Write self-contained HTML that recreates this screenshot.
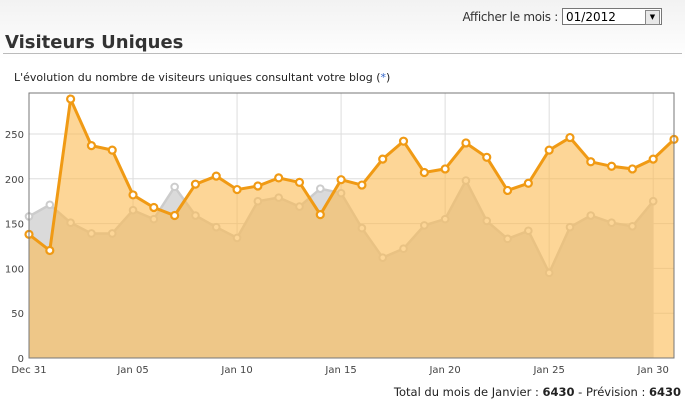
<!DOCTYPE html>
<html><head><meta charset="utf-8"><style>
body{margin:0;width:685px;height:408px;background:#fff;font-family:"DejaVu Sans","Liberation Sans",sans-serif;overflow:hidden;position:relative}
.top{position:absolute;left:0;top:0;width:685px;height:60px;background:linear-gradient(#f2f2f2,#fff)}
.aff{position:absolute;right:127px;top:10px;font-size:12px;color:#333;white-space:nowrap;letter-spacing:-0.3px}
.sel{position:absolute;left:562px;top:8px;width:100px;height:17px;border:1px solid #777;background:#fff;font-size:12px;line-height:17px;padding-left:3px;box-sizing:border-box;color:#000}
.sel b{position:absolute;right:1px;top:1px;width:13px;height:13px;border:1px solid #888;background:#e8e8e8;font-size:7px;line-height:13px;text-align:center;font-weight:normal}
h1{position:absolute;left:5px;top:32px;margin:0;font-size:18px;font-weight:bold;color:#333}
.rule{position:absolute;left:3px;top:53px;width:679px;height:1px;background:#bbb}
.sub{position:absolute;left:14px;top:71px;font-size:11px;color:#222}
.sub span{color:#36c}
.tot{position:absolute;right:4px;top:385px;font-size:11.5px;color:#222;white-space:nowrap}
svg{position:absolute;left:0;top:0}
</style></head><body>
<div class="top"></div>
<div class="aff">Afficher le mois :</div>
<div class="sel">01/2012<b>▼</b></div>
<h1>Visiteurs Uniques</h1>
<div class="rule"></div>
<div class="sub">L'évolution du nombre de visiteurs uniques consultant votre blog (<span>*</span>)</div>
<svg id="c" width="685" height="408"></svg>
<div class="tot">Total du mois de Janvier : <b>6430</b> - Prévision : <b>6430</b></div>
<script>
var O=[138,120,289,237,232,182,168,159,194,203,188,192,201,196,160,199,193,222,242,207,211,240,224,187,195,232,246,219,214,211,222,244];
var G=[158,171,151,139,139,165,155,191,159,146,134,175,179,169,189,184,145,112,122,148,155,198,153,133,142,95,146,159,151,147,175];
var L=29,B=358,T=93,R=674,dx=(R-L)/31,k=0.896;
function X(i){return L+i*dx}function Y(v){return B-v*k}
var s='';
s+='<rect x="'+L+'" y="'+T+'" width="'+(R-L)+'" height="'+(B-T)+'" fill="#fff"/>';
for(var v=50;v<=250;v+=50)s+='<line x1="'+L+'" x2="'+R+'" y1="'+Y(v)+'" y2="'+Y(v)+'" stroke="#ddd"/>';
for(var d=5;d<=30;d+=5)s+='<line y1="'+T+'" y2="'+B+'" x1="'+X(d)+'" x2="'+X(d)+'" stroke="#ddd"/>';
function pts(a){return a.map(function(v,i){return X(i).toFixed(1)+','+Y(v).toFixed(1)}).join(' ')}
function area(a){return pts(a)+' '+X(a.length-1)+','+B+' '+L+','+B}
s+='<polygon points="'+area(G)+'" fill="#dadada"/>';
s+='<polyline points="'+pts(G)+'" fill="none" stroke="#ccc" stroke-width="2.5"/>';
G.forEach(function(v,i){s+='<circle cx="'+X(i)+'" cy="'+Y(v)+'" r="3.3" fill="#fff" stroke="#ccc" stroke-width="2"/>'});
s+='<polygon points="'+area(O)+'" fill="rgb(252,186,82)" fill-opacity="0.6"/>';
s+='<polyline points="'+pts(O)+'" fill="none" stroke="#f09a14" stroke-width="3"/>';
O.forEach(function(v,i){s+='<circle cx="'+X(i)+'" cy="'+Y(v)+'" r="3.5" fill="#fff" stroke="#f09a14" stroke-width="2.2"/>'});
s+='<rect x="'+L+'" y="'+T+'" width="'+(R-L)+'" height="'+(B-T)+'" fill="none" stroke="#777"/>';
for(var v=0;v<=250;v+=50)s+='<text x="24" y="'+(Y(v)+4)+'" text-anchor="end" font-size="10" fill="#444" font-family="DejaVu Sans,sans-serif">'+v+'</text>';
var lab=['Dec 31','Jan 05','Jan 10','Jan 15','Jan 20','Jan 25','Jan 30'];
lab.forEach(function(t,j){s+='<text x="'+X(j*5)+'" y="373" text-anchor="middle" font-size="10" fill="#444" font-family="DejaVu Sans,sans-serif">'+t+'</text>'});
document.getElementById('c').innerHTML=s;
</script>
</body></html>
